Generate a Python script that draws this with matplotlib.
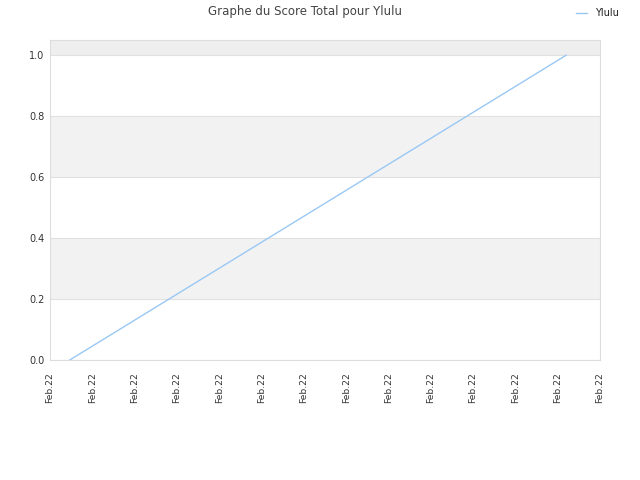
import datetime as dt
import matplotlib
matplotlib.use("Agg")
import matplotlib.pyplot as plt
import matplotlib.dates as mdates

# data
dates = [dt.datetime(2022, 2, 22, 8, 28), dt.datetime(2022, 2, 22, 20, 12)]
scores = [0.0, 1.0]
player = "Ylulu"
title = "Graphe du Score Total pour Ylulu"

x_start = dt.datetime(2022, 2, 22, 8, 0)
x_end = dt.datetime(2022, 2, 22, 21, 0)
y_ticks = [0.0, 0.2, 0.4, 0.6, 0.8, 1.0]

fig = plt.figure(figsize=(6.4, 4.8), dpi=100)
ax = fig.add_axes([50 / 640, 120 / 480, 550 / 640, 320 / 480])

# alternating bands
ax.axhspan(0.2, 0.4, color="#f2f2f2", zorder=0, lw=0)
ax.axhspan(0.6, 0.8, color="#f2f2f2", zorder=0, lw=0)
ax.axhspan(1.0, 1.05, color="#eeeeee", zorder=0, lw=0)
for y in y_ticks:
  ax.axhline(y, color="#e0e0e0", lw=0.8, zorder=1)

ax.plot(dates, scores, color="#99c8f5", lw=1, label=player, zorder=3)

ax.set_xlim(x_start, x_end)
ax.set_ylim(0, 1.05)
ax.set_yticks(y_ticks)
ax.yaxis.set_major_formatter(matplotlib.ticker.FormatStrFormatter("%.1f"))
ax.xaxis.set_major_locator(mdates.HourLocator(interval=1))
ax.xaxis.set_major_formatter(mdates.DateFormatter("%b.%d"))
plt.setp(ax.get_xticklabels(), rotation=90)
ax.tick_params(axis="both", length=0, labelsize=7, colors="#333333", pad=4)
ax.tick_params(axis="x", labelsize=6.6, pad=9)

for s in ax.spines.values():
  s.set_color("#dddddd")
  s.set_linewidth(0.8)

fig.suptitle(title, x=305 / 640, y=1 - 12 / 480, va="center", fontsize=8.5, color="#444444")
fig.legend(loc="center left", bbox_to_anchor=(567 / 640, 1 - 13 / 480), frameon=False,
           fontsize=7, handlelength=1.2, handletextpad=0.8, labelcolor="#222222")

fig.savefig("out.png", dpi=100)
